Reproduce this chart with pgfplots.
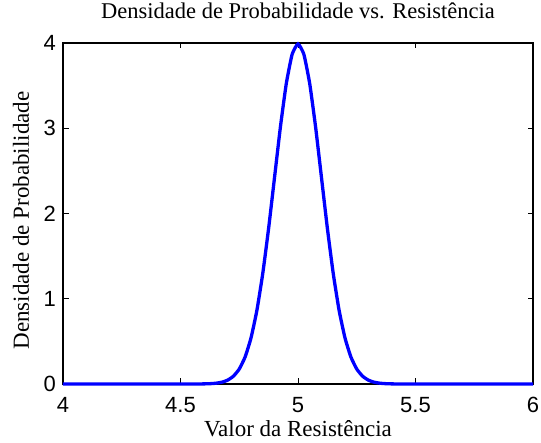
\documentclass[border=0pt]{standalone}
\usepackage{fontspec}
\setmainfont{Liberation Serif}
\newfontfamily\ticksfont{Liberation Sans}
\usepackage{pgfplots}
\pgfplotsset{compat=1.18}
\begin{document}
\begin{tikzpicture}
\begin{axis}[
  name=ax,
  scale only axis,
  width=470pt, height=341pt,
  xmin=4, xmax=6, ymin=0, ymax=4,
  clip=false,
  xtick={4,4.5,5,5.5,6}, ytick={0,1,2,3,4},
  xticklabels={4,4.5,5,5.5,6},
  yticklabels={0,1,2,3,4},
  tick align=inside,
  major tick length=5.5pt,
  tick style={black, line width=0.8pt},
  axis line style={black, line width=1.1pt},
  ticklabel style={font=\ticksfont\fontsize{22}{24}\selectfont, inner sep=1pt},
  xticklabel style={yshift=-12pt},
  yticklabel style={xshift=-6pt},
  xlabel={Valor da Resistência},
  ylabel={Densidade de Probabilidade},
  xlabel style={font=\fontsize{23}{26}\selectfont, inner sep=0pt, at={([yshift=-53pt]axis description cs:0.5,0)}, anchor=base},
  ylabel style={font=\fontsize{23}{26}\selectfont, inner sep=0pt, at={([xshift=-34pt,yshift=-7pt]axis description cs:0,0.5)}, anchor=base},
]
\addplot[blue, line width=3.3pt, smooth, tension=0.3] coordinates {
(4,0) (4.5,0.000015) (4.55,0.00016) (4.6,0.001338) (4.625,0.003527) (4.65,0.008727) (4.675,0.02029)
(4.7,0.04432) (4.725,0.09094) (4.75,0.17528) (4.775,0.3174) (4.8,0.5399) (4.825,0.8628)
(4.85,1.2952) (4.875,1.8265) (4.9,2.4197) (4.925,3.0114) (4.95,3.5207) (4.975,3.8667)
(5,3.98942)
(5.025,3.8667) (5.05,3.5207) (5.075,3.0114) (5.1,2.4197) (5.125,1.8265) (5.15,1.2952)
(5.175,0.8628) (5.2,0.5399) (5.225,0.3174) (5.25,0.17528) (5.275,0.09094) (5.3,0.04432)
(5.325,0.02029) (5.35,0.008727) (5.375,0.003527) (5.4,0.001338) (5.45,0.00016) (5.5,0.000015) (6,0)
};
\end{axis}
\node[font=\fontsize{22.5}{26}\selectfont, inner sep=0pt, anchor=base] at ([yshift=24pt]ax.north) {Densidade de Probabilidade vs. Resistência};
\path ([xshift=-63pt,yshift=-59pt]ax.south west) rectangle ([xshift=8pt,yshift=43pt]ax.north east);
\end{tikzpicture}
\end{document}
